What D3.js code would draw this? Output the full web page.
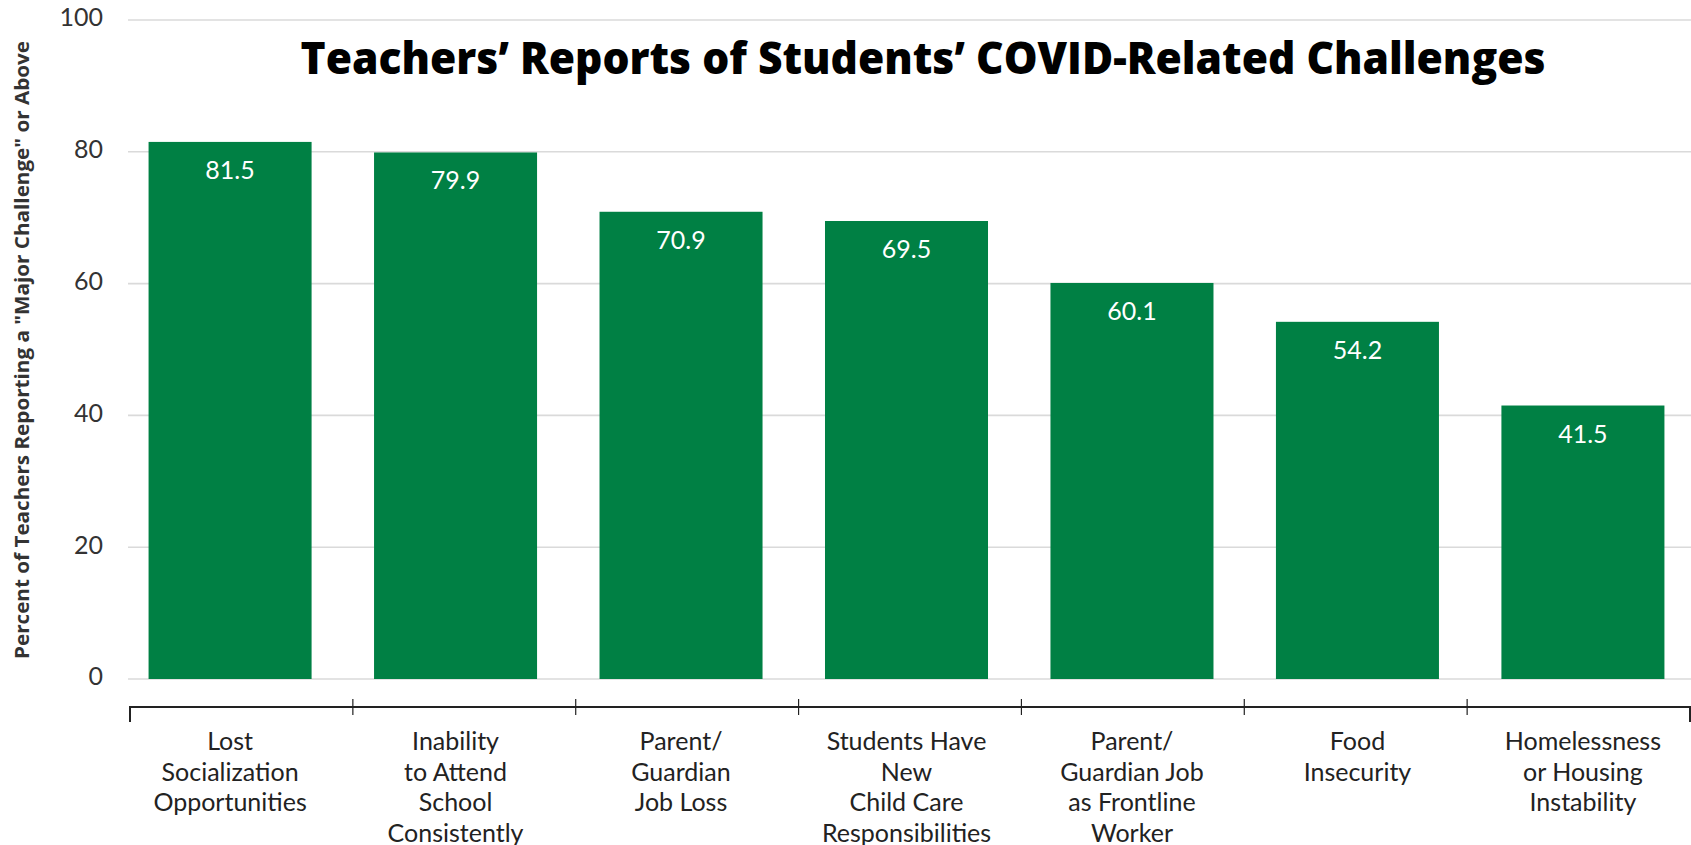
<!DOCTYPE html>
<html>
<head>
<meta charset="utf-8">
<script src="https://cdn.jsdelivr.net/npm/d3@7"></script>
<style>
  html, body { margin: 0; padding: 0; background: #fff; }
  svg { display: block; }
</style>
</head>
<body>
<svg id="chart" width="1691" height="845"></svg>
<script>
// Challenge categories (one entry per line of each label)
const categories = [
  ["Lost", "Socialization", "Opportunities"],
  ["Inability", "to Attend", "School", "Consistently"],
  ["Parent/", "Guardian", "Job Loss"],
  ["Students Have", "New", "Child Care", "Responsibilities"],
  ["Parent/", "Guardian Job", "as Frontline", "Worker"],
  ["Food", "Insecurity"],
  ["Homelessness", "or Housing", "Instability"]
];
// Percent of teachers reporting "major challenge" or above
const values = [81.5, 79.9, 70.9, 69.5, 60.1, 54.2, 41.5];
const yTicks = [0, 20, 40, 60, 80, 100];

const title = "Teachers\u2019 Reports of Students\u2019 COVID-Related Challenges";
const yTitle = "Percent of Teachers Reporting a \"Major Challenge\" or Above";

const W = 1691, H = 845;
const svg = d3.select("#chart");
const keys = categories.map((c, i) => i);

const y = d3.scaleLinear().domain([0, 100]).range([679, 20]);

// Bars
const x = d3.scaleBand().domain(keys).range([117, 1696])
  .paddingInner(0.277).paddingOuter(0.14);

// Bracket axis spanning the categories
const xAxisScale = d3.scaleBand().domain(keys).range([130, 1690]).padding(0);

// Gridlines
svg.append("g").selectAll("line").data(yTicks).join("line")
  .attr("x1", 128).attr("x2", W)
  .attr("y1", d => y(d)).attr("y2", d => y(d))
  .attr("stroke", "#dadada").attr("stroke-width", 1.6);

// Y tick labels
svg.append("g").selectAll("text").data(yTicks).join("text")
  .attr("x", 103).attr("y", d => y(d))
  .attr("text-anchor", "end").attr("dominant-baseline", "middle")
  .attr("font-family", "Lato, sans-serif").attr("font-size", 25)
  .attr("fill", "#333").text(d => d);

// Y axis title
svg.append("text")
  .attr("transform", "translate(29,350) rotate(-90)")
  .attr("text-anchor", "middle")
  .attr("font-family", "'Open Sans', sans-serif").attr("font-weight", 700)
  .attr("font-size", 19).attr("fill", "#333")
  .attr("textLength", 618).attr("lengthAdjust", "spacingAndGlyphs")
  .text(yTitle);

// Bars
svg.append("g").selectAll("rect").data(values).join("rect")
  .attr("x", (d, i) => x(i)).attr("width", x.bandwidth())
  .attr("y", d => y(d)).attr("height", d => y(0) - y(d))
  .attr("fill", "#008044");

// Value labels
svg.append("g").selectAll("text").data(values).join("text")
  .attr("x", (d, i) => x(i) + x.bandwidth() / 2)
  .attr("y", d => y(d) + 37)
  .attr("text-anchor", "middle")
  .attr("font-family", "Lato, sans-serif").attr("font-size", 25)
  .attr("fill", "#fff").text(d => d.toFixed(1));

// Bracket axis line and ticks
const axisY = 707;
const ax = svg.append("g").attr("stroke", "#222").attr("stroke-width", 2).attr("fill", "none");
const [r0, r1] = xAxisScale.range();
ax.append("path").attr("d", `M${r0},${axisY + 15}V${axisY}H${r1}V${axisY + 15}`);
ax.selectAll("line").data(keys.slice(1)).join("line")
  .attr("x1", d => xAxisScale(d)).attr("x2", d => xAxisScale(d))
  .attr("y1", axisY - 8).attr("y2", axisY + 8)
  .attr("stroke-width", 1.2);

// Category labels
const lab = svg.append("g").selectAll("text").data(categories).join("text")
  .attr("x", (d, i) => x(i) + x.bandwidth() / 2)
  .attr("y", 750)
  .attr("text-anchor", "middle")
  .attr("font-family", "Lato, sans-serif").attr("font-size", 25)
  .attr("fill", "#222");
lab.each(function(lines, i) {
  const t = d3.select(this);
  const cx = x(i) + x.bandwidth() / 2;
  lines.forEach((ln, k) => {
    t.append("tspan").attr("x", cx).attr("dy", k === 0 ? 0 : 30.5).text(ln);
  });
});

// Title
svg.append("text")
  .attr("x", 923).attr("y", 74)
  .attr("text-anchor", "middle")
  .attr("font-family", "'Open Sans', sans-serif").attr("font-weight", 800)
  .attr("font-size", 44).attr("fill", "#000")
  .attr("textLength", 1245).attr("lengthAdjust", "spacingAndGlyphs")
  .text(title);
</script>
</body>
</html>
